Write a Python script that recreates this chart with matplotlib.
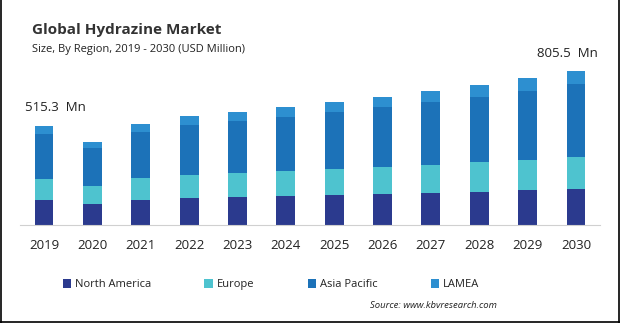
import numpy as np
import matplotlib.pyplot as plt
from matplotlib.lines import Line2D

years = ["2019", "2020", "2021", "2022", "2023", "2024",
         "2025", "2026", "2027", "2028", "2029", "2030"]
north_america = [130, 109, 130, 141, 146, 151, 156, 161, 167, 172, 182, 188]
europe = [109, 94, 115, 120, 125, 130, 135, 141, 146, 156, 156, 167]
asia_pacific = [234, 198, 239, 260, 271, 281, 297, 312, 328, 338, 359, 382]
lamea = [42, 35, 42, 47, 47, 52, 52, 52, 57, 62, 68, 68]
series_names = ["North America", "Europe", "Asia Pacific", "LAMEA"]
colors = ["#2B3A8E", "#4EC3CF", "#1C72B8", "#2D8FD0"]
first_label = "515.3  Mn"
last_label = "805.5  Mn"

plt.rcParams['font.family'] = ['Open Sans', 'DejaVu Sans']

fig = plt.figure(figsize=(6.2, 3.23), dpi=100)
ax = fig.add_axes([0.032, 0.302, 0.936, 0.53])

x = np.arange(len(years))
bottom = np.zeros(len(years))
for vals, name, col in zip([north_america, europe, asia_pacific, lamea], series_names, colors):
    ax.bar(x, vals, width=0.39, bottom=bottom, color=col, label=name)
    bottom += np.array(vals)

ax.set_xlim(-0.5, 11.5)
ax.set_ylim(0, 890)
for s in ["top", "right", "left"]:
    ax.spines[s].set_visible(False)
ax.spines["bottom"].set_color("#D0D0D0")
ax.set_yticks([])
ax.set_xticks(x)
ax.set_xticklabels(years, fontsize=9.5, color="#222222")
ax.tick_params(axis="x", length=0, pad=10)

ax.annotate(first_label, (0, bottom[0]), xytext=(-14, 9), textcoords="offset points",
            fontsize=9.5, color="#222222", ha="left", va="bottom")
ax.annotate(last_label, (11, bottom[-1]), xytext=(16, 8), textcoords="offset points",
            fontsize=9.5, color="#222222", ha="right", va="bottom")

fig.text(0.052, 0.895, "Global Hydrazine Market", fontsize=11, fontweight="bold", color="#333333")
fig.text(0.052, 0.84, "Size, By Region, 2019 - 2030 (USD Million)", fontsize=8, color="#222222")

leg = fig.legend(loc="center", bbox_to_anchor=(0.437, 0.118), ncol=4, frameon=False,
                 fontsize=8, handlelength=0.75, handleheight=0.75, handletextpad=0.35,
                 columnspacing=4.8, labelcolor="#222222")

fig.text(0.802, 0.047, "Source: www.kbvresearch.com", fontsize=6.8, style="italic",
         color="#222222", ha="right")

# thin frame round the picture
for xs, ys in [([0.001, 0.001], [0, 1]), ([0.998, 0.998], [0, 1]), ([0, 1], [0.004, 0.004])]:
    fig.add_artist(Line2D(xs, ys, color="black", linewidth=1.2, transform=fig.transFigure))

fig.savefig("out.png", dpi=100)
